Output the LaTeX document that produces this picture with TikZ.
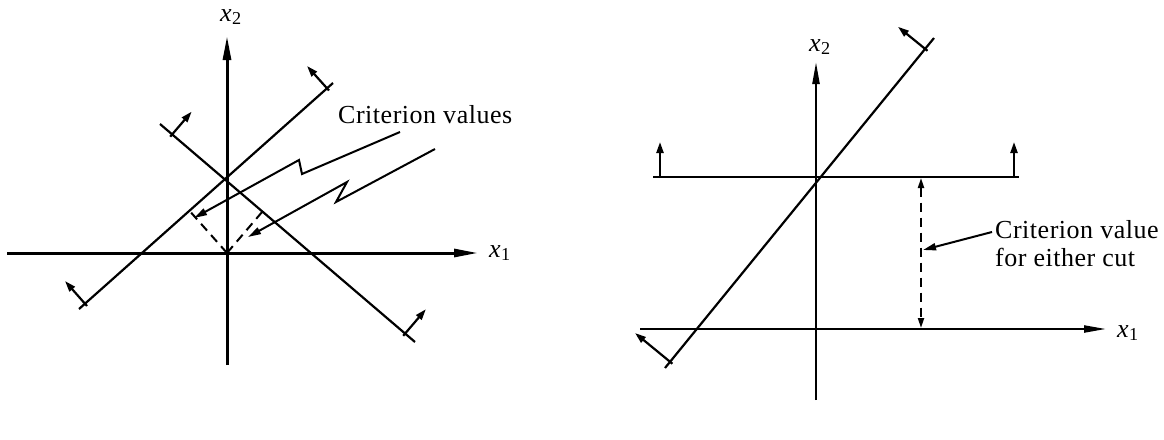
\documentclass[tikz,border=0pt]{standalone}
\usepackage{fontspec}
\setmainfont{Liberation Serif}[LetterSpace=2]
\usetikzlibrary{arrows.meta}
\begin{document}
\begin{tikzpicture}[x=1pt,y=-1pt,
  axisL/.style={line width=3pt,-{Triangle[length=24pt,width=8pt]}},
  axisR/.style={line width=2.2pt,-{Triangle[length=22pt,width=7pt]}},
  cutline/.style={line width=2.2pt},
  normalarrow/.style={line width=2.2pt,-{Triangle[length=11pt,width=7pt]}},
  critarrow/.style={line width=2pt,line join=miter,-{Triangle[length=13pt,width=7pt]}},
  dashline/.style={line width=2pt,dash pattern=on 9pt off 6pt},
  lab/.style={font=\fontsize{26}{28}\selectfont,inner sep=0pt},
]
\useasboundingbox (0,0) rectangle (1164,439);

% ---------------- left panel ----------------
\coordinate (O) at (227,253);
\coordinate (Lx2b) at (227,365);
\coordinate (Lx2t) at (227,36);
\coordinate (Lx1l) at (7,253);
\coordinate (Lx1r) at (478,253);
\draw[axisL] (Lx2b) -- (Lx2t);
\draw[axisL] (Lx1l) -- (Lx1r);
\node[lab] (Llx2) at (231,17) {\textit{x}\textsubscript{2}};
\node[lab] (Llx1) at (500,253) {\textit{x}\textsubscript{1}};

% cut A (rising)
\coordinate (A1) at (79,309);
\coordinate (A2) at (333,83);
\draw[cutline] (A1) -- (A2);
\coordinate (A1s) at (87,306);
\coordinate (A1t) at (65,281);
\coordinate (A2s) at (329,90.5);
\coordinate (A2t) at (307,66);
\draw[normalarrow] (A1s) -- (A1t);
\draw[normalarrow] (A2s) -- (A2t);

% cut B (falling)
\coordinate (B1) at (160,124);
\coordinate (B2) at (415,342);
\draw[cutline] (B1) -- (B2);
\coordinate (B1s) at (170.2,136.7);
\coordinate (B1t) at (191.7,111.6);
\coordinate (B2s) at (403.2,335.8);
\coordinate (B2t) at (425.9,309.2);
\draw[normalarrow] (B1s) -- (B1t);
\draw[normalarrow] (B2s) -- (B2t);

% perpendiculars from origin
\coordinate (FA) at (189.4,210.7);
\coordinate (FB) at (262.4,211.6);
\draw[dashline] (O) -- (FA);
\draw[dashline] (O) -- (FB);

% criterion label and broken arrows
\node[lab,anchor=west] (Lcrit) at (338,115) {Criterion values};
\coordinate (C1s) at (400,132);
\coordinate (C1a) at (302,174);
\coordinate (C1b) at (299,160);
\coordinate (C1t) at (194,218);
\draw[critarrow] (C1s) -- (C1a) -- (C1b) -- (C1t);
\coordinate (C2s) at (435,149);
\coordinate (C2a) at (336,202);
\coordinate (C2b) at (347,182);
\coordinate (C2t) at (248,237);
\draw[critarrow] (C2s) -- (C2a) -- (C2b) -- (C2t);

% ---------------- right panel ----------------
\coordinate (Rx2b) at (816,400);
\coordinate (Rx2t) at (816,62);
\coordinate (Rx1l) at (640,329);
\coordinate (Rx1r) at (1106,329);
\draw[axisR] (Rx2b) -- (Rx2t);
\draw[axisR] (Rx1l) -- (Rx1r);
\node[lab] (Rlx2) at (820,47) {\textit{x}\textsubscript{2}};
\node[lab] (Rlx1) at (1128,333) {\textit{x}\textsubscript{1}};

% horizontal cut
\coordinate (H1) at (653,177);
\coordinate (H2) at (1019,177);
\draw[cutline] (H1) -- (H2);
\coordinate (H1s) at (660,178);
\coordinate (H1t) at (660,142);
\coordinate (H2s) at (1014,178);
\coordinate (H2t) at (1014,142);
\draw[normalarrow] (H1s) -- (H1t);
\draw[normalarrow] (H2s) -- (H2t);

% diagonal cut
\coordinate (D1) at (665,368);
\coordinate (D2) at (934,38);
\draw[cutline] (D1) -- (D2);
\coordinate (D2s) at (927.5,50.8);
\coordinate (D2t) at (898,26.8);
\coordinate (D1s) at (672.4,363.7);
\coordinate (D1t) at (635,333);
\draw[normalarrow] (D2s) -- (D2t);
\draw[normalarrow] (D1s) -- (D1t);

% criterion value dimension
\coordinate (V1) at (921,178);
\coordinate (V2) at (921,328);
\draw[dashline,{Triangle[length=10pt,width=6pt]}-{Triangle[length=10pt,width=6pt]}] (V1) -- (V2);
\node[lab,anchor=west,align=left] (Rcrit) at (995,244) {Criterion value\\for either cut};
\coordinate (P1) at (992,232);
\coordinate (P2) at (923,250);
\draw[critarrow] (P1) -- (P2);
\end{tikzpicture}
\end{document}
